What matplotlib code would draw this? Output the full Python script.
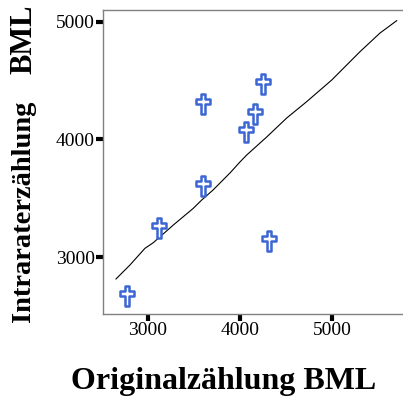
import matplotlib
matplotlib.use("Agg")
import matplotlib.pyplot as plt
from matplotlib.path import Path

# counts: original vs. repeated count
original = [4247, 3601, 4160, 4062, 3598, 3120, 4315, 2768]
intrarater = [4472, 4302, 4217, 4064, 3604, 3247, 3136, 2668]

# smoothed fit line
fit_x = [2652, 2804, 2967, 3058, 3275, 3492, 3584, 3707, 3891, 4000,
         4073, 4290, 4508, 4725, 4997, 5304, 5522, 5703]
fit_y = [2813, 2932, 3074, 3122, 3272, 3414, 3485, 3570, 3715, 3809,
         3868, 4021, 4183, 4322, 4506, 4747, 4906, 5011]

ticks = [3000, 4000, 5000]

# latin cross marker
cross = Path([(-0.22, -1.0), (0.22, -1.0), (0.22, 0.0), (0.72, 0.0),
              (0.72, 0.5), (0.22, 0.5), (0.22, 1.0), (-0.22, 1.0),
              (-0.22, 0.5), (-0.72, 0.5), (-0.72, 0.0), (-0.22, 0.0),
              (-0.22, -1.0)], closed=True)

plt.rcParams['font.family'] = ['Liberation Serif', 'DejaVu Serif']

W, H = 403, 405
fig = plt.figure(figsize=(W / 100, H / 100), dpi=100)
# axes runs past the right edge of the figure
ax = fig.add_axes([103 / W, 91 / H, 320 / W, 304 / H])

ax.plot(fit_x, fit_y, color='black', lw=0.8, zorder=2)
ax.plot(original, intrarater, ls='none', marker=cross, markersize=14,
        markerfacecolor='white', markeredgecolor='#3b66d4',
        markeredgewidth=1.8, zorder=3)

ax.set_xlim(2511, 2511 + 320 / 0.092)
ax.set_ylim(2515, 5102)
ax.set_xticks(ticks)
ax.set_yticks(ticks)
ax.tick_params(direction='out', length=5, width=3, color='black',
               labelsize=14, pad=1)

for side in ['left', 'bottom', 'top']:
    ax.spines[side].set_color('#808080')
    ax.spines[side].set_linewidth(1.0)
ax.spines['right'].set_visible(False)

# axis titles
fig.text(224 / W, 1 - 389 / H, 'Originalzählung BML', fontsize=23,
         fontweight='bold', ha='center', va='baseline')
fig.text(24 / W, 1 - 211 / H, 'Intraraterzählung', fontsize=20.5,
         fontweight='bold', rotation=90, ha='center', va='center')
fig.text(24 / W, 1 - 39 / H, 'BML', fontsize=22,
         fontweight='bold', rotation=90, ha='center', va='center')

fig.savefig('out.png', dpi=100)
